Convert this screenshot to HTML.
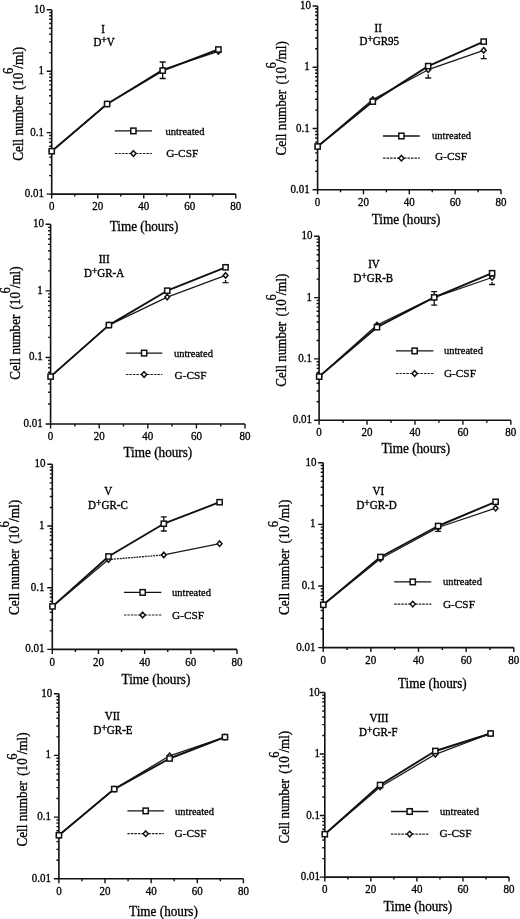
<!DOCTYPE html>
<html><head><meta charset="utf-8"><style>
html,body{margin:0;padding:0;background:#fff;width:520px;height:919px;overflow:hidden}
svg{display:block;filter:blur(0.3px)}
text{font-family:"Liberation Serif", serif;fill:#000;stroke:#000;stroke-width:0.3px}
.ax{fill:none;stroke:#111;stroke-width:1.6}
.tk{fill:none;stroke:#111;stroke-width:1.4}
.tl{font-size:11px}
.lt{font-size:10.5px}
.lt2{font-size:11.3px}
.tt{font-size:11px;stroke-width:0.35px}
.al{font-size:13.2px}
.lu{fill:none;stroke:#111;stroke-width:1.9;stroke-linejoin:round}
.lg{fill:none;stroke:#1a1a1a;stroke-width:1.3;stroke-linecap:round}
.lgd{fill:none;stroke:#222;stroke-width:1.3;stroke-dasharray:2 0.8}
.eb{fill:none;stroke:#111;stroke-width:1.3}
.mk{fill:#fff;stroke:#111;stroke-width:1.5}
.legu{fill:none;stroke:#111;stroke-width:1.3}
.legg{fill:none;stroke:#222;stroke-width:1.2;stroke-dasharray:2.5 1}
</style></head><body>
<svg width="520" height="919" viewBox="0 0 520 919">
<path d="M51.70 9.80V194.10H235.80" class="ax"/>
<path d="M46.70 194.10H51.70 M49.20 175.61H51.70 M49.20 164.79H51.70 M49.20 157.11H51.70 M49.20 151.16H51.70 M49.20 146.30H51.70 M49.20 142.18H51.70 M49.20 138.62H51.70 M49.20 135.48H51.70 M46.70 132.67H51.70 M49.20 114.17H51.70 M49.20 103.36H51.70 M49.20 95.68H51.70 M49.20 89.73H51.70 M49.20 84.86H51.70 M49.20 80.75H51.70 M49.20 77.19H51.70 M49.20 74.04H51.70 M46.70 71.23H51.70 M49.20 52.74H51.70 M49.20 41.92H51.70 M49.20 34.25H51.70 M49.20 28.29H51.70 M49.20 23.43H51.70 M49.20 19.32H51.70 M49.20 15.75H51.70 M49.20 12.61H51.70 M46.70 9.80H51.70 M51.70 194.10v4.5 M74.71 194.10v2.5 M97.73 194.10v4.5 M120.74 194.10v2.5 M143.75 194.10v4.5 M166.76 194.10v2.5 M189.78 194.10v4.5 M212.79 194.10v2.5 M235.80 194.10v4.5" class="tk"/>
<text transform="translate(43.90 197.10) scale(1 1.06)" class="tl" text-anchor="end">0.01</text>
<text transform="translate(43.90 135.67) scale(1 1.06)" class="tl" text-anchor="end">0.1</text>
<text transform="translate(43.90 74.23) scale(1 1.06)" class="tl" text-anchor="end">1</text>
<text transform="translate(45.00 12.80) scale(1 1.06)" class="tl" text-anchor="end">10</text>
<text transform="translate(51.70 210.30) scale(1 1.06)" class="tl" text-anchor="middle">0</text>
<text transform="translate(97.73 210.30) scale(1 1.06)" class="tl" text-anchor="middle">20</text>
<text transform="translate(143.75 210.30) scale(1 1.06)" class="tl" text-anchor="middle">40</text>
<text transform="translate(189.78 210.30) scale(1 1.06)" class="tl" text-anchor="middle">60</text>
<text transform="translate(235.80 210.30) scale(1 1.06)" class="tl" text-anchor="middle">80</text>
<path d="M51.70 151.20L107.10 104.00" class="lg"/>
<path d="M107.10 104.00L162.70 69.60" class="lg"/>
<path d="M162.70 69.60L218.40 51.40" class="lg"/>
<path d="M51.70 151.20 L107.10 104.00 L162.70 70.60 L218.40 49.50" class="lu"/>
<path d="M162.70 62.00V78.50M159.70 62.00h6M159.70 78.50h6" class="eb"/>
<path d="M51.70 148.50l2.4 2.7l-2.4 2.7l-2.4 -2.7z" class="mk"/>
<path d="M107.10 101.30l2.4 2.7l-2.4 2.7l-2.4 -2.7z" class="mk"/>
<path d="M162.70 66.90l2.4 2.7l-2.4 2.7l-2.4 -2.7z" class="mk"/>
<path d="M218.40 48.70l2.4 2.7l-2.4 2.7l-2.4 -2.7z" class="mk"/>
<rect x="49.10" y="148.60" width="5.2" height="5.2" class="mk"/>
<rect x="104.50" y="101.40" width="5.2" height="5.2" class="mk"/>
<rect x="160.10" y="68.00" width="5.2" height="5.2" class="mk"/>
<rect x="215.80" y="46.90" width="5.2" height="5.2" class="mk"/>
<path d="M114.80 130.90H152.00" class="legu"/>
<path d="M114.80 153.50H152.00" class="legg"/>
<rect x="130.80" y="128.10" width="5.2" height="5.6" class="mk"/>
<path d="M133.40 150.70l2.6 2.8l-2.6 2.8l-2.6 -2.8z" class="mk"/>
<text transform="translate(165.50 134.50) scale(1 1.05)" class="lt" textLength="39" lengthAdjust="spacingAndGlyphs">untreated</text>
<text transform="translate(166.20 156.70) scale(1 1.0)" class="lt2">G-CSF</text>
<text transform="translate(103.05 32.50) scale(1 1.1)" class="tt" text-anchor="middle">I</text>
<text transform="translate(104.05 46.00) scale(1 1.08)" class="tt" text-anchor="middle">D<tspan dy="-2.6" font-size="9.5" font-weight="bold">+</tspan><tspan dy="2.6">V</tspan></text>
<text transform="translate(22.80 103.75) rotate(-90) scale(1 1.15)" class="al" style="font-size:13.15px" text-anchor="middle">Cell number <tspan dx="1.97">(10</tspan><tspan dx="-1.45" dy="-8.68" font-size="12.50">6</tspan><tspan dx="-0.92" dy="8.68">/ml)</tspan></text>
<text transform="translate(144.00 231.20) scale(1 1.05)" class="al" text-anchor="middle">Time (hours)</text>
<path d="M317.60 6.00V189.80H501.00" class="ax"/>
<path d="M312.60 189.80H317.60 M315.10 171.36H317.60 M315.10 160.57H317.60 M315.10 152.91H317.60 M315.10 146.98H317.60 M315.10 142.13H317.60 M315.10 138.02H317.60 M315.10 134.47H317.60 M315.10 131.34H317.60 M312.60 128.53H317.60 M315.10 110.09H317.60 M315.10 99.30H317.60 M315.10 91.65H317.60 M315.10 85.71H317.60 M315.10 80.86H317.60 M315.10 76.76H317.60 M315.10 73.20H317.60 M315.10 70.07H317.60 M312.60 67.27H317.60 M315.10 48.82H317.60 M315.10 38.04H317.60 M315.10 30.38H317.60 M315.10 24.44H317.60 M315.10 19.59H317.60 M315.10 15.49H317.60 M315.10 11.94H317.60 M315.10 8.80H317.60 M312.60 6.00H317.60 M317.60 189.80v4.5 M340.53 189.80v2.5 M363.45 189.80v4.5 M386.38 189.80v2.5 M409.30 189.80v4.5 M432.23 189.80v2.5 M455.15 189.80v4.5 M478.07 189.80v2.5 M501.00 189.80v4.5" class="tk"/>
<text transform="translate(309.80 192.80) scale(1 1.06)" class="tl" text-anchor="end">0.01</text>
<text transform="translate(309.80 131.53) scale(1 1.06)" class="tl" text-anchor="end">0.1</text>
<text transform="translate(309.80 70.27) scale(1 1.06)" class="tl" text-anchor="end">1</text>
<text transform="translate(310.90 9.00) scale(1 1.06)" class="tl" text-anchor="end">10</text>
<text transform="translate(317.60 206.00) scale(1 1.06)" class="tl" text-anchor="middle">0</text>
<text transform="translate(363.45 206.00) scale(1 1.06)" class="tl" text-anchor="middle">20</text>
<text transform="translate(409.30 206.00) scale(1 1.06)" class="tl" text-anchor="middle">40</text>
<text transform="translate(455.15 206.00) scale(1 1.06)" class="tl" text-anchor="middle">60</text>
<text transform="translate(501.00 206.00) scale(1 1.06)" class="tl" text-anchor="middle">80</text>
<path d="M317.60 146.50L372.80 99.50" class="lg"/>
<path d="M372.80 99.50L428.20 69.70" class="lg"/>
<path d="M428.20 69.70L483.70 50.30" class="lg"/>
<path d="M317.60 146.50 L372.80 101.60 L428.20 66.10 L483.70 41.60" class="lu"/>
<path d="M428.20 74.30V78.00M425.20 78.00h6" class="eb"/>
<path d="M483.70 54.90V58.60M480.70 58.60h6" class="eb"/>
<path d="M317.60 143.80l2.4 2.7l-2.4 2.7l-2.4 -2.7z" class="mk"/>
<path d="M372.80 96.80l2.4 2.7l-2.4 2.7l-2.4 -2.7z" class="mk"/>
<path d="M428.20 67.00l2.4 2.7l-2.4 2.7l-2.4 -2.7z" class="mk"/>
<path d="M483.70 47.60l2.4 2.7l-2.4 2.7l-2.4 -2.7z" class="mk"/>
<rect x="315.00" y="143.90" width="5.2" height="5.2" class="mk"/>
<rect x="370.20" y="99.00" width="5.2" height="5.2" class="mk"/>
<rect x="425.60" y="63.50" width="5.2" height="5.2" class="mk"/>
<rect x="481.10" y="39.00" width="5.2" height="5.2" class="mk"/>
<path d="M383.00 136.00H419.80" class="legu"/>
<path d="M383.00 158.20H419.80" class="legg"/>
<rect x="398.80" y="133.20" width="5.2" height="5.6" class="mk"/>
<path d="M401.40 155.40l2.6 2.8l-2.6 2.8l-2.6 -2.8z" class="mk"/>
<text transform="translate(432.10 138.80) scale(1 1.05)" class="lt" textLength="39" lengthAdjust="spacingAndGlyphs">untreated</text>
<text transform="translate(435.00 160.40) scale(1 1.0)" class="lt2">G-CSF</text>
<text transform="translate(378.25 31.50) scale(1 1.1)" class="tt" text-anchor="middle">II</text>
<text transform="translate(379.25 44.80) scale(1 1.08)" class="tt" text-anchor="middle">D<tspan dy="-2.6" font-size="9.5" font-weight="bold">+</tspan><tspan dy="2.6">GR95</tspan></text>
<text transform="translate(286.30 98.30) rotate(-90) scale(1 1.15)" class="al" style="font-size:13.21px" text-anchor="middle">Cell number <tspan dx="1.98">(10</tspan><tspan dx="-1.45" dy="-8.72" font-size="12.55">6</tspan><tspan dx="-0.92" dy="8.72">/ml)</tspan></text>
<text transform="translate(406.15 224.00) scale(1 1.05)" class="al" text-anchor="middle">Time (hours)</text>
<path d="M50.60 224.30V424.00H245.00" class="ax"/>
<path d="M45.60 424.00H50.60 M48.10 403.96H50.60 M48.10 392.24H50.60 M48.10 383.92H50.60 M48.10 377.47H50.60 M48.10 372.20H50.60 M48.10 367.74H50.60 M48.10 363.88H50.60 M48.10 360.48H50.60 M45.60 357.43H50.60 M48.10 337.39H50.60 M48.10 325.67H50.60 M48.10 317.36H50.60 M48.10 310.91H50.60 M48.10 305.63H50.60 M48.10 301.18H50.60 M48.10 297.32H50.60 M48.10 293.91H50.60 M45.60 290.87H50.60 M48.10 270.83H50.60 M48.10 259.11H50.60 M48.10 250.79H50.60 M48.10 244.34H50.60 M48.10 239.07H50.60 M48.10 234.61H50.60 M48.10 230.75H50.60 M48.10 227.35H50.60 M45.60 224.30H50.60 M50.60 424.00v4.5 M74.90 424.00v2.5 M99.20 424.00v4.5 M123.50 424.00v2.5 M147.80 424.00v4.5 M172.10 424.00v2.5 M196.40 424.00v4.5 M220.70 424.00v2.5 M245.00 424.00v4.5" class="tk"/>
<text transform="translate(42.80 427.00) scale(1 1.06)" class="tl" text-anchor="end">0.01</text>
<text transform="translate(42.80 360.43) scale(1 1.06)" class="tl" text-anchor="end">0.1</text>
<text transform="translate(42.80 293.87) scale(1 1.06)" class="tl" text-anchor="end">1</text>
<text transform="translate(43.90 227.30) scale(1 1.06)" class="tl" text-anchor="end">10</text>
<text transform="translate(50.60 440.20) scale(1 1.06)" class="tl" text-anchor="middle">0</text>
<text transform="translate(99.20 440.20) scale(1 1.06)" class="tl" text-anchor="middle">20</text>
<text transform="translate(147.80 440.20) scale(1 1.06)" class="tl" text-anchor="middle">40</text>
<text transform="translate(196.40 440.20) scale(1 1.06)" class="tl" text-anchor="middle">60</text>
<text transform="translate(245.00 440.20) scale(1 1.06)" class="tl" text-anchor="middle">80</text>
<path d="M50.60 376.60L108.92 325.10" class="lg"/>
<path d="M108.92 325.10L167.24 297.10" class="lg"/>
<path d="M167.24 297.10L225.56 275.40" class="lg"/>
<path d="M50.60 376.60 L108.92 325.10 L167.24 290.70 L225.56 267.30" class="lu"/>
<path d="M225.56 280.00V282.70M222.56 282.70h6" class="eb"/>
<path d="M50.60 373.90l2.4 2.7l-2.4 2.7l-2.4 -2.7z" class="mk"/>
<path d="M108.92 322.40l2.4 2.7l-2.4 2.7l-2.4 -2.7z" class="mk"/>
<path d="M167.24 294.40l2.4 2.7l-2.4 2.7l-2.4 -2.7z" class="mk"/>
<path d="M225.56 272.70l2.4 2.7l-2.4 2.7l-2.4 -2.7z" class="mk"/>
<rect x="48.00" y="374.00" width="5.2" height="5.2" class="mk"/>
<rect x="106.32" y="322.50" width="5.2" height="5.2" class="mk"/>
<rect x="164.64" y="288.10" width="5.2" height="5.2" class="mk"/>
<rect x="222.96" y="264.70" width="5.2" height="5.2" class="mk"/>
<path d="M125.90 353.10H162.30" class="legu"/>
<path d="M125.90 374.50H162.30" class="legg"/>
<rect x="141.50" y="350.30" width="5.2" height="5.6" class="mk"/>
<path d="M144.10 371.70l2.6 2.8l-2.6 2.8l-2.6 -2.8z" class="mk"/>
<text transform="translate(173.90 356.50) scale(1 1.05)" class="lt" textLength="39" lengthAdjust="spacingAndGlyphs">untreated</text>
<text transform="translate(174.60 379.10) scale(1 1.0)" class="lt2">G-CSF</text>
<text transform="translate(104.20 263.30) scale(1 1.1)" class="tt" text-anchor="middle">III</text>
<text transform="translate(104.10 276.50) scale(1 1.08)" class="tt" text-anchor="middle">D<tspan dy="-2.6" font-size="9.5" font-weight="bold">+</tspan><tspan dy="2.6">GR-A</tspan></text>
<text transform="translate(20.20 323.05) rotate(-90) scale(1 1.15)" class="al" style="font-size:13.08px" text-anchor="middle">Cell number <tspan dx="1.96">(10</tspan><tspan dx="-1.44" dy="-8.63" font-size="12.43">6</tspan><tspan dx="-0.92" dy="8.63">/ml)</tspan></text>
<text transform="translate(157.90 457.30) scale(1 1.05)" class="al" text-anchor="middle">Time (hours)</text>
<path d="M319.10 236.30V420.20H510.80" class="ax"/>
<path d="M314.10 420.20H319.10 M316.60 401.75H319.10 M316.60 390.95H319.10 M316.60 383.29H319.10 M316.60 377.35H319.10 M316.60 372.50H319.10 M316.60 368.40H319.10 M316.60 364.84H319.10 M316.60 361.70H319.10 M314.10 358.90H319.10 M316.60 340.45H319.10 M316.60 329.65H319.10 M316.60 321.99H319.10 M316.60 316.05H319.10 M316.60 311.20H319.10 M316.60 307.10H319.10 M316.60 303.54H319.10 M316.60 300.40H319.10 M314.10 297.60H319.10 M316.60 279.15H319.10 M316.60 268.35H319.10 M316.60 260.69H319.10 M316.60 254.75H319.10 M316.60 249.90H319.10 M316.60 245.80H319.10 M316.60 242.24H319.10 M316.60 239.10H319.10 M314.10 236.30H319.10 M319.10 420.20v4.5 M343.06 420.20v2.5 M367.03 420.20v4.5 M390.99 420.20v2.5 M414.95 420.20v4.5 M438.91 420.20v2.5 M462.88 420.20v4.5 M486.84 420.20v2.5 M510.80 420.20v4.5" class="tk"/>
<text transform="translate(311.90 423.20) scale(1 1.06)" class="tl" text-anchor="end">0.01</text>
<text transform="translate(311.90 361.90) scale(1 1.06)" class="tl" text-anchor="end">0.1</text>
<text transform="translate(311.90 300.60) scale(1 1.06)" class="tl" text-anchor="end">1</text>
<text transform="translate(312.40 239.30) scale(1 1.06)" class="tl" text-anchor="end">10</text>
<text transform="translate(319.10 436.40) scale(1 1.06)" class="tl" text-anchor="middle">0</text>
<text transform="translate(367.03 436.40) scale(1 1.06)" class="tl" text-anchor="middle">20</text>
<text transform="translate(414.95 436.40) scale(1 1.06)" class="tl" text-anchor="middle">40</text>
<text transform="translate(462.88 436.40) scale(1 1.06)" class="tl" text-anchor="middle">60</text>
<text transform="translate(510.80 436.40) scale(1 1.06)" class="tl" text-anchor="middle">80</text>
<path d="M319.20 376.60L377.00 325.00" class="lg"/>
<path d="M377.00 325.00L434.20 297.40" class="lg"/>
<path d="M434.20 297.40L492.10 277.50" class="lg"/>
<path d="M319.20 376.60 L377.00 327.20 L434.20 297.40 L492.10 273.20" class="lu"/>
<path d="M434.20 291.70V305.20M431.20 291.70h6M431.20 305.20h6" class="eb"/>
<path d="M492.10 282.10V284.50M489.10 284.50h6" class="eb"/>
<path d="M319.20 373.90l2.4 2.7l-2.4 2.7l-2.4 -2.7z" class="mk"/>
<path d="M377.00 322.30l2.4 2.7l-2.4 2.7l-2.4 -2.7z" class="mk"/>
<path d="M434.20 294.70l2.4 2.7l-2.4 2.7l-2.4 -2.7z" class="mk"/>
<path d="M492.10 274.80l2.4 2.7l-2.4 2.7l-2.4 -2.7z" class="mk"/>
<rect x="316.60" y="374.00" width="5.2" height="5.2" class="mk"/>
<rect x="374.40" y="324.60" width="5.2" height="5.2" class="mk"/>
<rect x="431.60" y="294.80" width="5.2" height="5.2" class="mk"/>
<rect x="489.50" y="270.60" width="5.2" height="5.2" class="mk"/>
<path d="M395.90 350.90H433.40" class="legu"/>
<path d="M395.90 373.50H433.40" class="legg"/>
<rect x="412.05" y="348.10" width="5.2" height="5.6" class="mk"/>
<path d="M414.65 370.70l2.6 2.8l-2.6 2.8l-2.6 -2.8z" class="mk"/>
<text transform="translate(443.90 354.00) scale(1 1.05)" class="lt" textLength="39" lengthAdjust="spacingAndGlyphs">untreated</text>
<text transform="translate(443.90 376.70) scale(1 1.0)" class="lt2">G-CSF</text>
<text transform="translate(374.00 268.40) scale(1 1.1)" class="tt" text-anchor="middle">IV</text>
<text transform="translate(373.30 281.90) scale(1 1.08)" class="tt" text-anchor="middle">D<tspan dy="-2.6" font-size="9.5" font-weight="bold">+</tspan><tspan dy="2.6">GR-B</tspan></text>
<text transform="translate(286.00 330.15) rotate(-90) scale(1 1.15)" class="al" style="font-size:13.08px" text-anchor="middle">Cell number <tspan dx="1.96">(10</tspan><tspan dx="-1.44" dy="-8.63" font-size="12.43">6</tspan><tspan dx="-0.92" dy="8.63">/ml)</tspan></text>
<text transform="translate(415.85 452.70) scale(1 1.05)" class="al" text-anchor="middle">Time (hours)</text>
<path d="M52.30 464.30V649.40H237.00" class="ax"/>
<path d="M47.30 649.40H52.30 M49.80 630.83H52.30 M49.80 619.96H52.30 M49.80 612.25H52.30 M49.80 606.27H52.30 M49.80 601.39H52.30 M49.80 597.26H52.30 M49.80 593.68H52.30 M49.80 590.52H52.30 M47.30 587.70H52.30 M49.80 569.13H52.30 M49.80 558.26H52.30 M49.80 550.55H52.30 M49.80 544.57H52.30 M49.80 539.69H52.30 M49.80 535.56H52.30 M49.80 531.98H52.30 M49.80 528.82H52.30 M47.30 526.00H52.30 M49.80 507.43H52.30 M49.80 496.56H52.30 M49.80 488.85H52.30 M49.80 482.87H52.30 M49.80 477.99H52.30 M49.80 473.86H52.30 M49.80 470.28H52.30 M49.80 467.12H52.30 M47.30 464.30H52.30 M52.30 649.40v4.5 M75.39 649.40v2.5 M98.47 649.40v4.5 M121.56 649.40v2.5 M144.65 649.40v4.5 M167.74 649.40v2.5 M190.82 649.40v4.5 M213.91 649.40v2.5 M237.00 649.40v4.5" class="tk"/>
<text transform="translate(44.50 652.40) scale(1 1.06)" class="tl" text-anchor="end">0.01</text>
<text transform="translate(44.50 590.70) scale(1 1.06)" class="tl" text-anchor="end">0.1</text>
<text transform="translate(44.50 529.00) scale(1 1.06)" class="tl" text-anchor="end">1</text>
<text transform="translate(45.60 467.30) scale(1 1.06)" class="tl" text-anchor="end">10</text>
<text transform="translate(52.30 665.60) scale(1 1.06)" class="tl" text-anchor="middle">0</text>
<text transform="translate(98.47 665.60) scale(1 1.06)" class="tl" text-anchor="middle">20</text>
<text transform="translate(144.65 665.60) scale(1 1.06)" class="tl" text-anchor="middle">40</text>
<text transform="translate(190.82 665.60) scale(1 1.06)" class="tl" text-anchor="middle">60</text>
<text transform="translate(237.00 665.60) scale(1 1.06)" class="tl" text-anchor="middle">80</text>
<path d="M52.50 606.40L108.50 559.60" class="lg"/>
<path d="M108.50 559.60L163.80 554.90" class="lgd"/>
<path d="M163.80 554.90L219.60 543.70" class="lg"/>
<path d="M52.50 606.40 L108.50 556.50 L163.80 523.70 L219.60 502.20" class="lu"/>
<path d="M163.80 516.80V531.00M160.80 516.80h6M160.80 531.00h6" class="eb"/>
<path d="M52.50 603.70l2.4 2.7l-2.4 2.7l-2.4 -2.7z" class="mk"/>
<path d="M108.50 556.90l2.4 2.7l-2.4 2.7l-2.4 -2.7z" class="mk"/>
<path d="M163.80 552.20l2.4 2.7l-2.4 2.7l-2.4 -2.7z" class="mk"/>
<path d="M219.60 541.00l2.4 2.7l-2.4 2.7l-2.4 -2.7z" class="mk"/>
<rect x="49.90" y="603.80" width="5.2" height="5.2" class="mk"/>
<rect x="105.90" y="553.90" width="5.2" height="5.2" class="mk"/>
<rect x="161.20" y="521.10" width="5.2" height="5.2" class="mk"/>
<rect x="217.00" y="499.60" width="5.2" height="5.2" class="mk"/>
<path d="M123.90 592.40H161.40" class="legu"/>
<path d="M123.90 615.00H161.40" class="legg"/>
<rect x="140.05" y="589.60" width="5.2" height="5.6" class="mk"/>
<path d="M142.65 612.20l2.6 2.8l-2.6 2.8l-2.6 -2.8z" class="mk"/>
<text transform="translate(172.00 596.00) scale(1 1.05)" class="lt" textLength="39" lengthAdjust="spacingAndGlyphs">untreated</text>
<text transform="translate(172.00 618.80) scale(1 1.0)" class="lt2">G-CSF</text>
<text transform="translate(108.20 495.40) scale(1 1.1)" class="tt" text-anchor="middle">V</text>
<text transform="translate(107.90 509.20) scale(1 1.08)" class="tt" text-anchor="middle">D<tspan dy="-2.6" font-size="9.5" font-weight="bold">+</tspan><tspan dy="2.6">GR-C</tspan></text>
<text transform="translate(19.30 557.48) rotate(-90) scale(1 1.15)" class="al" style="font-size:13.29px" text-anchor="middle">Cell number <tspan dx="1.99">(10</tspan><tspan dx="-1.46" dy="-8.77" font-size="12.63">6</tspan><tspan dx="-0.93" dy="8.77">/ml)</tspan></text>
<text transform="translate(155.95 683.80) scale(1 1.05)" class="al" text-anchor="middle">Time (hours)</text>
<path d="M323.20 462.70V647.60H513.80" class="ax"/>
<path d="M318.20 647.60H323.20 M320.70 629.05H323.20 M320.70 618.19H323.20 M320.70 610.49H323.20 M320.70 604.52H323.20 M320.70 599.64H323.20 M320.70 595.51H323.20 M320.70 591.94H323.20 M320.70 588.79H323.20 M318.20 585.97H323.20 M320.70 567.41H323.20 M320.70 556.56H323.20 M320.70 548.86H323.20 M320.70 542.89H323.20 M320.70 538.01H323.20 M320.70 533.88H323.20 M320.70 530.31H323.20 M320.70 527.15H323.20 M318.20 524.33H323.20 M320.70 505.78H323.20 M320.70 494.93H323.20 M320.70 487.23H323.20 M320.70 481.25H323.20 M320.70 476.37H323.20 M320.70 472.25H323.20 M320.70 468.67H323.20 M320.70 465.52H323.20 M318.20 462.70H323.20 M323.20 647.60v4.5 M347.02 647.60v2.5 M370.85 647.60v4.5 M394.67 647.60v2.5 M418.50 647.60v4.5 M442.32 647.60v2.5 M466.15 647.60v4.5 M489.97 647.60v2.5 M513.80 647.60v4.5" class="tk"/>
<text transform="translate(315.40 650.60) scale(1 1.06)" class="tl" text-anchor="end">0.01</text>
<text transform="translate(315.40 588.97) scale(1 1.06)" class="tl" text-anchor="end">0.1</text>
<text transform="translate(315.40 527.33) scale(1 1.06)" class="tl" text-anchor="end">1</text>
<text transform="translate(316.50 465.70) scale(1 1.06)" class="tl" text-anchor="end">10</text>
<text transform="translate(323.20 663.80) scale(1 1.06)" class="tl" text-anchor="middle">0</text>
<text transform="translate(370.85 663.80) scale(1 1.06)" class="tl" text-anchor="middle">20</text>
<text transform="translate(418.50 663.80) scale(1 1.06)" class="tl" text-anchor="middle">40</text>
<text transform="translate(466.15 663.80) scale(1 1.06)" class="tl" text-anchor="middle">60</text>
<text transform="translate(513.80 663.80) scale(1 1.06)" class="tl" text-anchor="middle">80</text>
<path d="M323.30 604.80L380.40 558.80" class="lg"/>
<path d="M380.40 558.80L438.10 527.50" class="lg"/>
<path d="M438.10 527.50L495.60 508.20" class="lg"/>
<path d="M323.30 604.80 L380.40 557.00 L438.10 526.00 L495.60 501.80" class="lu"/>
<path d="M438.10 529.80V531.30M435.10 531.30h6" class="eb"/>
<path d="M323.30 602.10l2.4 2.7l-2.4 2.7l-2.4 -2.7z" class="mk"/>
<path d="M380.40 556.10l2.4 2.7l-2.4 2.7l-2.4 -2.7z" class="mk"/>
<path d="M438.10 524.80l2.4 2.7l-2.4 2.7l-2.4 -2.7z" class="mk"/>
<path d="M495.60 505.50l2.4 2.7l-2.4 2.7l-2.4 -2.7z" class="mk"/>
<rect x="320.70" y="602.20" width="5.2" height="5.2" class="mk"/>
<rect x="377.80" y="554.40" width="5.2" height="5.2" class="mk"/>
<rect x="435.50" y="523.40" width="5.2" height="5.2" class="mk"/>
<rect x="493.00" y="499.20" width="5.2" height="5.2" class="mk"/>
<path d="M394.20 581.90H431.30" class="legu"/>
<path d="M394.20 604.10H431.30" class="legg"/>
<rect x="410.15" y="579.10" width="5.2" height="5.6" class="mk"/>
<path d="M412.75 601.30l2.6 2.8l-2.6 2.8l-2.6 -2.8z" class="mk"/>
<text transform="translate(442.90 585.10) scale(1 1.05)" class="lt" textLength="39" lengthAdjust="spacingAndGlyphs">untreated</text>
<text transform="translate(442.90 607.70) scale(1 1.0)" class="lt2">G-CSF</text>
<text transform="translate(378.30 495.40) scale(1 1.1)" class="tt" text-anchor="middle">VI</text>
<text transform="translate(376.50 509.20) scale(1 1.08)" class="tt" text-anchor="middle">D<tspan dy="-2.6" font-size="9.5" font-weight="bold">+</tspan><tspan dy="2.6">GR-D</tspan></text>
<text transform="translate(288.60 557.35) rotate(-90) scale(1 1.15)" class="al" style="font-size:13.32px" text-anchor="middle">Cell number <tspan dx="2.00">(10</tspan><tspan dx="-1.47" dy="-8.79" font-size="12.65">6</tspan><tspan dx="-0.93" dy="8.79">/ml)</tspan></text>
<text transform="translate(432.30 687.80) scale(1 1.05)" class="al" text-anchor="middle">Time (hours)</text>
<path d="M58.90 693.70V878.80H243.40" class="ax"/>
<path d="M53.90 878.80H58.90 M56.40 860.23H58.90 M56.40 849.36H58.90 M56.40 841.65H58.90 M56.40 835.67H58.90 M56.40 830.79H58.90 M56.40 826.66H58.90 M56.40 823.08H58.90 M56.40 819.92H58.90 M53.90 817.10H58.90 M56.40 798.53H58.90 M56.40 787.66H58.90 M56.40 779.95H58.90 M56.40 773.97H58.90 M56.40 769.09H58.90 M56.40 764.96H58.90 M56.40 761.38H58.90 M56.40 758.22H58.90 M53.90 755.40H58.90 M56.40 736.83H58.90 M56.40 725.96H58.90 M56.40 718.25H58.90 M56.40 712.27H58.90 M56.40 707.39H58.90 M56.40 703.26H58.90 M56.40 699.68H58.90 M56.40 696.52H58.90 M53.90 693.70H58.90 M58.90 878.80v4.5 M81.96 878.80v2.5 M105.03 878.80v4.5 M128.09 878.80v2.5 M151.15 878.80v4.5 M174.21 878.80v2.5 M197.28 878.80v4.5 M220.34 878.80v2.5 M243.40 878.80v4.5" class="tk"/>
<text transform="translate(51.10 881.80) scale(1 1.06)" class="tl" text-anchor="end">0.01</text>
<text transform="translate(51.10 820.10) scale(1 1.06)" class="tl" text-anchor="end">0.1</text>
<text transform="translate(51.10 758.40) scale(1 1.06)" class="tl" text-anchor="end">1</text>
<text transform="translate(52.20 696.70) scale(1 1.06)" class="tl" text-anchor="end">10</text>
<text transform="translate(58.90 895.00) scale(1 1.06)" class="tl" text-anchor="middle">0</text>
<text transform="translate(105.03 895.00) scale(1 1.06)" class="tl" text-anchor="middle">20</text>
<text transform="translate(151.15 895.00) scale(1 1.06)" class="tl" text-anchor="middle">40</text>
<text transform="translate(197.28 895.00) scale(1 1.06)" class="tl" text-anchor="middle">60</text>
<text transform="translate(243.40 895.00) scale(1 1.06)" class="tl" text-anchor="middle">80</text>
<path d="M58.90 835.30L114.25 789.10" class="lg"/>
<path d="M114.25 789.10L169.60 755.80" class="lg"/>
<path d="M169.60 755.80L224.95 737.10" class="lg"/>
<path d="M58.90 835.30 L114.25 789.10 L169.60 758.50 L224.95 737.10" class="lu"/>
<path d="M58.90 832.60l2.4 2.7l-2.4 2.7l-2.4 -2.7z" class="mk"/>
<path d="M114.25 786.40l2.4 2.7l-2.4 2.7l-2.4 -2.7z" class="mk"/>
<path d="M169.60 753.10l2.4 2.7l-2.4 2.7l-2.4 -2.7z" class="mk"/>
<path d="M224.95 734.40l2.4 2.7l-2.4 2.7l-2.4 -2.7z" class="mk"/>
<rect x="56.30" y="832.70" width="5.2" height="5.2" class="mk"/>
<rect x="111.65" y="786.50" width="5.2" height="5.2" class="mk"/>
<rect x="167.00" y="755.90" width="5.2" height="5.2" class="mk"/>
<rect x="222.35" y="734.50" width="5.2" height="5.2" class="mk"/>
<path d="M127.40 810.90H164.00" class="legu"/>
<path d="M127.40 833.70H164.00" class="legg"/>
<rect x="143.10" y="808.10" width="5.2" height="5.6" class="mk"/>
<path d="M145.70 830.90l2.6 2.8l-2.6 2.8l-2.6 -2.8z" class="mk"/>
<text transform="translate(175.00 814.50) scale(1 1.05)" class="lt" textLength="39" lengthAdjust="spacingAndGlyphs">untreated</text>
<text transform="translate(174.60 837.30) scale(1 1.0)" class="lt2">G-CSF</text>
<text transform="translate(112.40 719.60) scale(1 1.1)" class="tt" text-anchor="middle">VII</text>
<text transform="translate(113.00 733.60) scale(1 1.08)" class="tt" text-anchor="middle">D<tspan dy="-2.6" font-size="9.5" font-weight="bold">+</tspan><tspan dy="2.6">GR-E</tspan></text>
<text transform="translate(26.60 789.50) rotate(-90) scale(1 1.15)" class="al" style="font-size:13.19px" text-anchor="middle">Cell number <tspan dx="1.98">(10</tspan><tspan dx="-1.45" dy="-8.70" font-size="12.53">6</tspan><tspan dx="-0.92" dy="8.70">/ml)</tspan></text>
<text transform="translate(163.45 915.80) scale(1 1.05)" class="al" text-anchor="middle">Time (hours)</text>
<path d="M324.80 692.50V877.10H509.00" class="ax"/>
<path d="M319.80 877.10H324.80 M322.30 858.58H324.80 M322.30 847.74H324.80 M322.30 840.05H324.80 M322.30 834.09H324.80 M322.30 829.22H324.80 M322.30 825.10H324.80 M322.30 821.53H324.80 M322.30 818.38H324.80 M319.80 815.57H324.80 M322.30 797.04H324.80 M322.30 786.21H324.80 M322.30 778.52H324.80 M322.30 772.56H324.80 M322.30 767.68H324.80 M322.30 763.56H324.80 M322.30 760.00H324.80 M322.30 756.85H324.80 M319.80 754.03H324.80 M322.30 735.51H324.80 M322.30 724.67H324.80 M322.30 716.99H324.80 M322.30 711.02H324.80 M322.30 706.15H324.80 M322.30 702.03H324.80 M322.30 698.46H324.80 M322.30 695.32H324.80 M319.80 692.50H324.80 M324.80 877.10v4.5 M347.82 877.10v2.5 M370.85 877.10v4.5 M393.88 877.10v2.5 M416.90 877.10v4.5 M439.93 877.10v2.5 M462.95 877.10v4.5 M485.98 877.10v2.5 M509.00 877.10v4.5" class="tk"/>
<text transform="translate(320.00 880.10) scale(1 1.06)" class="tl" text-anchor="end">0.01</text>
<text transform="translate(320.00 818.57) scale(1 1.06)" class="tl" text-anchor="end">0.1</text>
<text transform="translate(320.00 757.03) scale(1 1.06)" class="tl" text-anchor="end">1</text>
<text transform="translate(319.80 695.50) scale(1 1.06)" class="tl" text-anchor="end">10</text>
<text transform="translate(324.80 893.30) scale(1 1.06)" class="tl" text-anchor="middle">0</text>
<text transform="translate(370.85 893.30) scale(1 1.06)" class="tl" text-anchor="middle">20</text>
<text transform="translate(416.90 893.30) scale(1 1.06)" class="tl" text-anchor="middle">40</text>
<text transform="translate(462.95 893.30) scale(1 1.06)" class="tl" text-anchor="middle">60</text>
<text transform="translate(509.00 893.30) scale(1 1.06)" class="tl" text-anchor="middle">80</text>
<path d="M324.80 834.20L380.06 787.00" class="lg"/>
<path d="M380.06 787.00L435.32 754.30" class="lg"/>
<path d="M435.32 754.30L490.58 733.50" class="lg"/>
<path d="M324.80 834.20 L380.06 785.00 L435.32 751.00 L490.58 733.50" class="lu"/>
<path d="M324.80 831.50l2.4 2.7l-2.4 2.7l-2.4 -2.7z" class="mk"/>
<path d="M380.06 784.30l2.4 2.7l-2.4 2.7l-2.4 -2.7z" class="mk"/>
<path d="M435.32 751.60l2.4 2.7l-2.4 2.7l-2.4 -2.7z" class="mk"/>
<path d="M490.58 730.80l2.4 2.7l-2.4 2.7l-2.4 -2.7z" class="mk"/>
<rect x="322.20" y="831.60" width="5.2" height="5.2" class="mk"/>
<rect x="377.46" y="782.40" width="5.2" height="5.2" class="mk"/>
<rect x="432.72" y="748.40" width="5.2" height="5.2" class="mk"/>
<rect x="487.98" y="730.90" width="5.2" height="5.2" class="mk"/>
<path d="M390.90 811.50H428.40" class="legu"/>
<path d="M390.90 834.10H428.40" class="legg"/>
<rect x="407.05" y="808.70" width="5.2" height="5.6" class="mk"/>
<path d="M409.65 831.30l2.6 2.8l-2.6 2.8l-2.6 -2.8z" class="mk"/>
<text transform="translate(440.00 815.10) scale(1 1.05)" class="lt" textLength="39" lengthAdjust="spacingAndGlyphs">untreated</text>
<text transform="translate(439.60 837.30) scale(1 1.0)" class="lt2">G-CSF</text>
<text transform="translate(378.90 721.90) scale(1 1.1)" class="tt" text-anchor="middle">VIII</text>
<text transform="translate(378.30 736.00) scale(1 1.08)" class="tt" text-anchor="middle">D<tspan dy="-2.6" font-size="9.5" font-weight="bold">+</tspan><tspan dy="2.6">GR-F</tspan></text>
<text transform="translate(289.20 787.15) rotate(-90) scale(1 1.15)" class="al" style="font-size:13.01px" text-anchor="middle">Cell number <tspan dx="1.95">(10</tspan><tspan dx="-1.43" dy="-8.59" font-size="12.36">6</tspan><tspan dx="-0.91" dy="8.59">/ml)</tspan></text>
<text transform="translate(417.90 911.20) scale(1 1.05)" class="al" text-anchor="middle">Time (hours)</text>
</svg>
</body></html>
